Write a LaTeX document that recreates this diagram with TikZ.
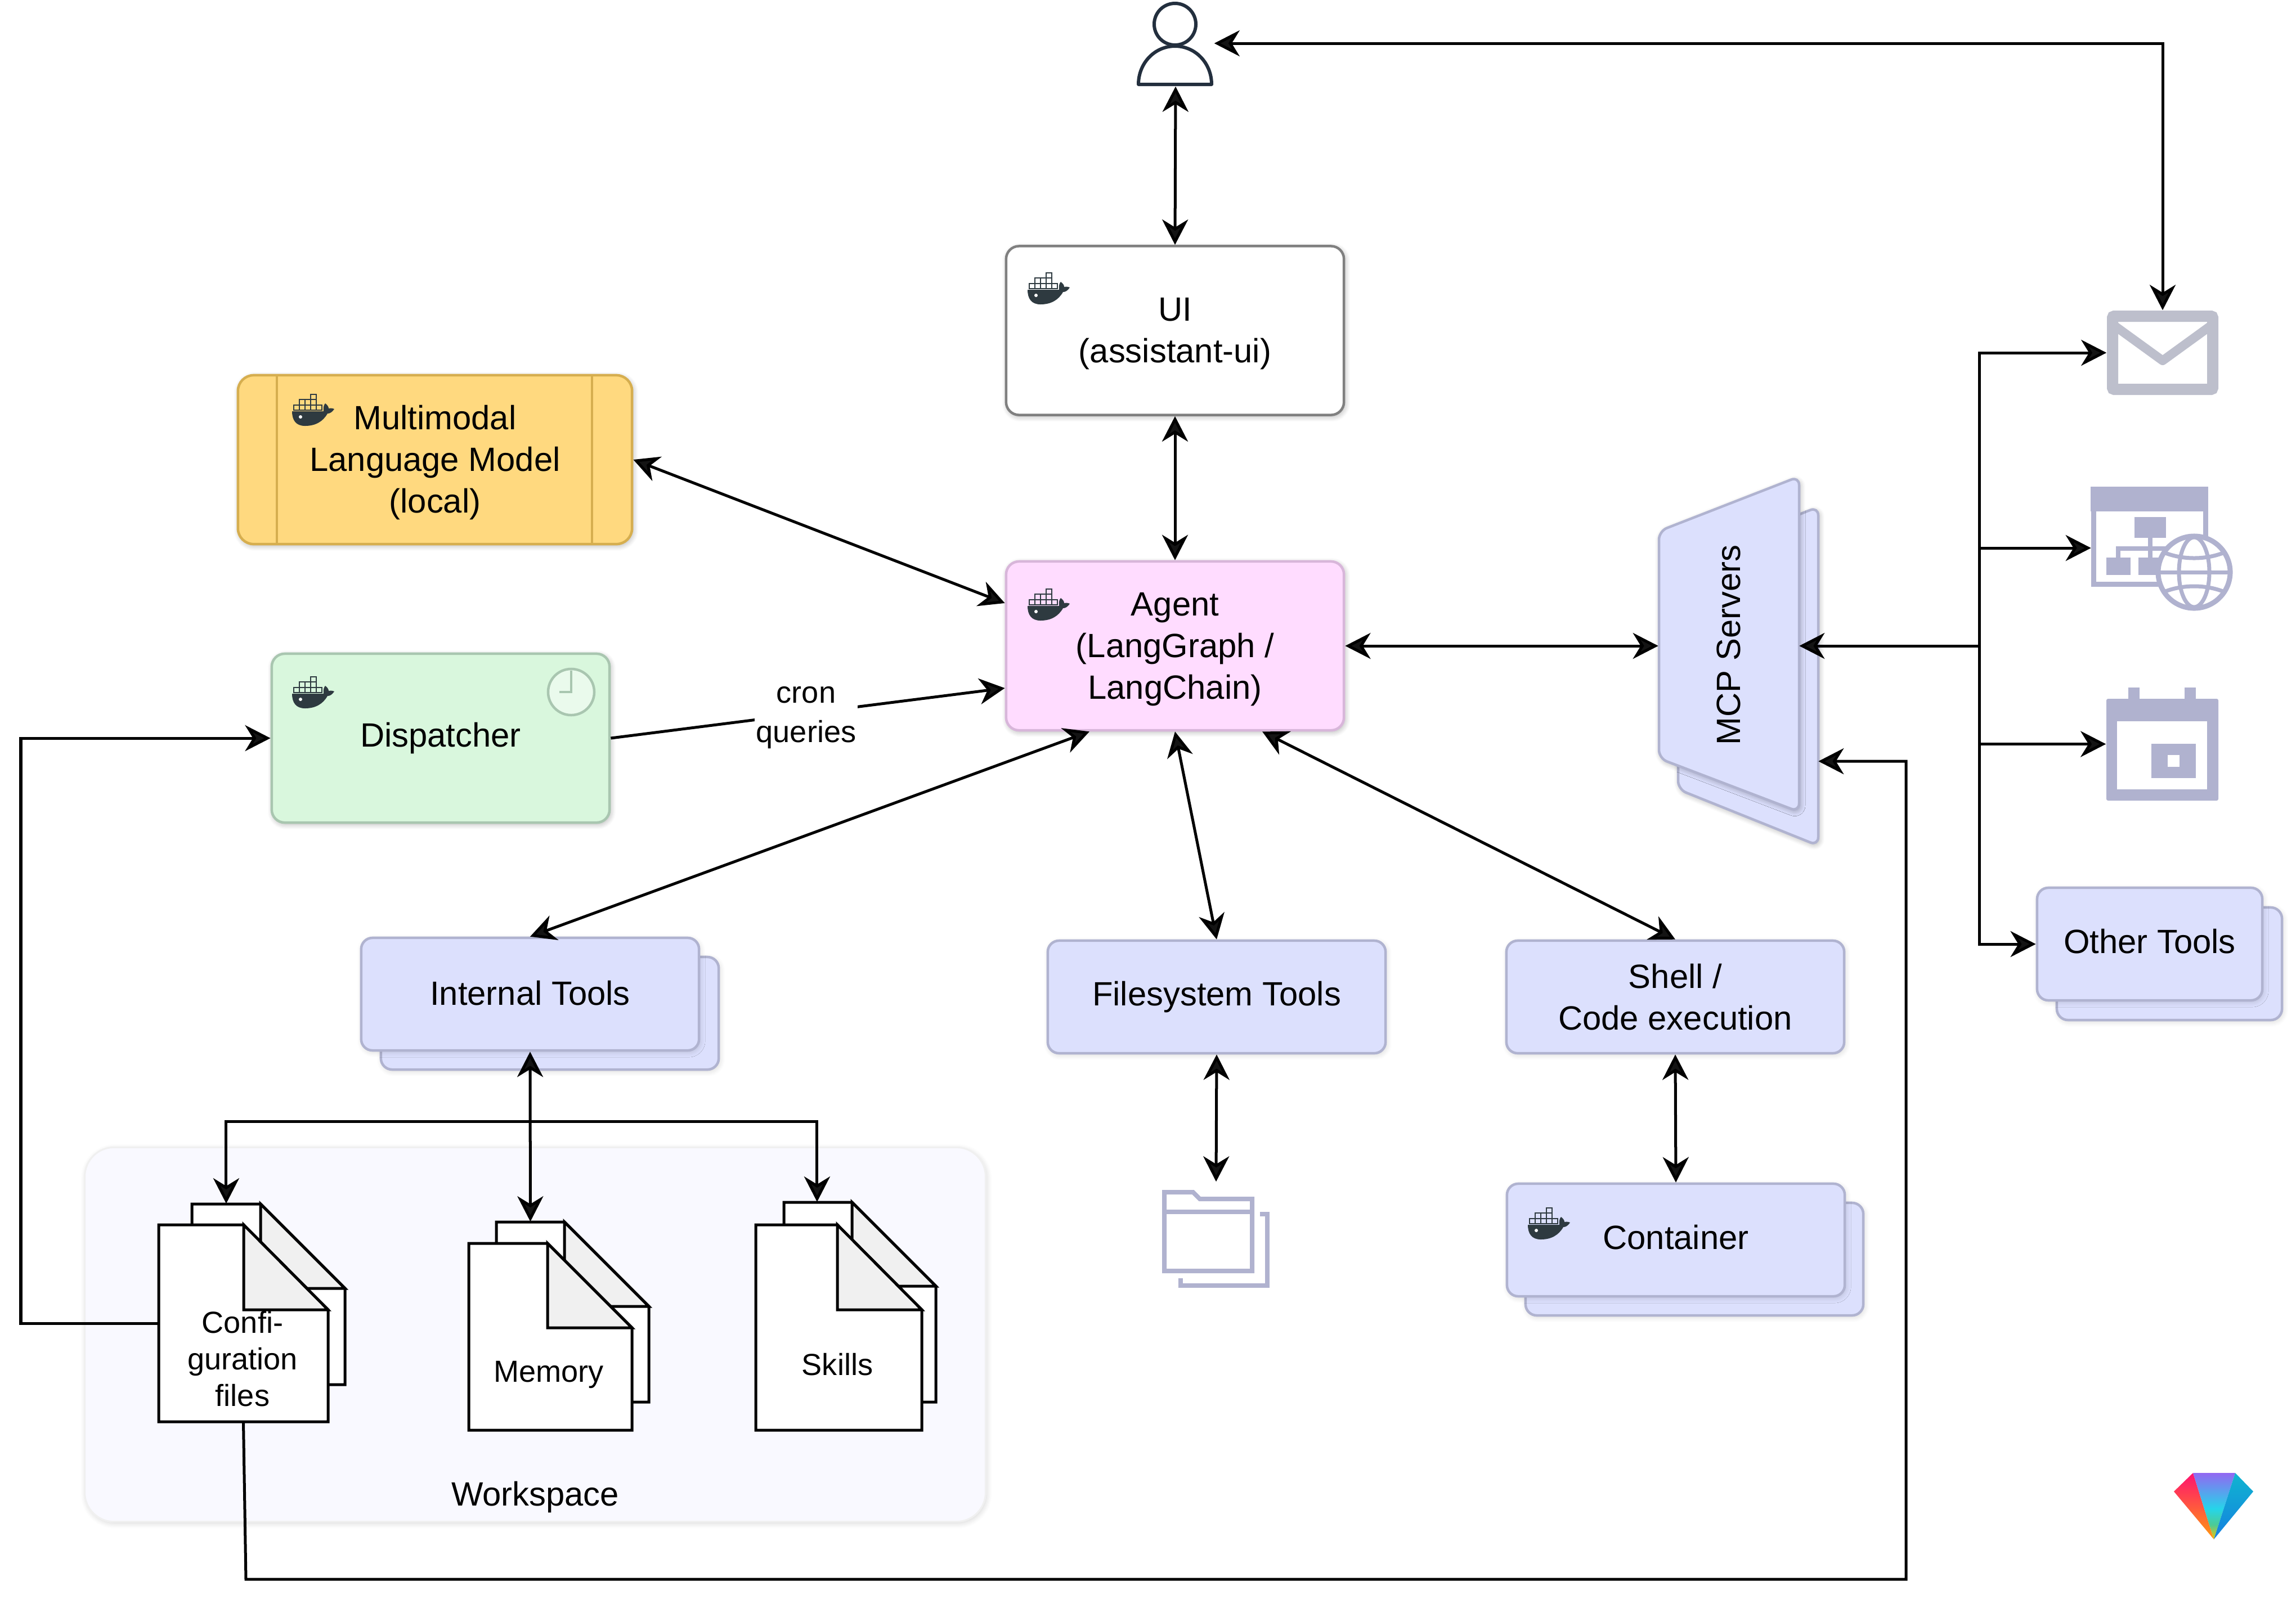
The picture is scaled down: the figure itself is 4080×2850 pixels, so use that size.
\documentclass[tikz,border=0pt]{standalone}
\usepackage{fontspec}
\setmainfont{Liberation Sans}
\usetikzlibrary{arrows.meta,shadows.blur}
\definecolor{toolfill}{HTML}{DCE0FD}
\definecolor{tooledge}{HTML}{B0B3D0}
\definecolor{modelfill}{HTML}{FFD97F}
\definecolor{modeledge}{HTML}{D6AE4F}
\definecolor{dispfill}{HTML}{D9F7DD}
\definecolor{dispedge}{HTML}{A9C6B0}
\definecolor{agentfill}{HTML}{FFDCFF}
\definecolor{agentedge}{HTML}{D8B6DA}
\definecolor{dockerink}{HTML}{2E3A40}
\definecolor{personink}{HTML}{232F3E}
\definecolor{mailink}{HTML}{BDBFCC}
\definecolor{iconink}{HTML}{B0B2CF}
\definecolor{workfill}{HTML}{F9F9FF}
\definecolor{gemyellow}{HTML}{F5C400}
\definecolor{gemgreen}{HTML}{4CCB96}
\definecolor{gemcyan}{HTML}{25D5EA}
\definecolor{gempurple}{HTML}{9268F2}
\definecolor{gempink}{HTML}{FF1270}
\definecolor{gemorange}{HTML}{FF9A10}
\definecolor{gemteal}{HTML}{10B5D0}
\definecolor{gemblue}{HTML}{1580E0}
\pgfdeclareverticalshading{gemcore}{100bp}{color(0bp)=(gemyellow); color(25bp)=(gemyellow); color(36bp)=(gemgreen); color(48bp)=(gemcyan); color(75bp)=(gempurple); color(100bp)=(gempurple)}
\newcommand{\topgap}{\rule{0pt}{.53cm}}
\newcommand{\docsheet}[6]{%
  \draw[docline,fill=white] (#1,#2) -- (#5,#2) -- (#3,#6) -- (#3,#4) -- (#1,#4) -- cycle;
  \draw[docline,fill=black!6] (#5,#2) -- (#5,#6) -- (#3,#6) -- cycle;
}
\begin{document}
\begin{tikzpicture}[x=.01cm, y=-.01cm, >={Stealth[length=.45cm,width=.46cm,inset=.14cm]},
    every text node part/.style={align=center}]
  \tikzset{
    softshadow/.style={blur shadow={shadow xshift=.02cm,shadow yshift=-.03cm,shadow blur radius=.09cm,shadow opacity=16,shadow blur steps=6}},
    box/.style={draw,line width=.045cm,rounded corners=.2cm,minimum width=6cm,minimum height=2cm,inner sep=0pt,softshadow,font=\mainsize,text=black},
    toolbox/.style={box,draw=tooledge,fill=toolfill},
    tallbox/.style={box,minimum height=3cm,rounded corners=.23cm},
    hightext/.style={text depth=.1cm},
    iconframe/.style={inner sep=0pt},
    docframe/.style={inner sep=0pt},
    doctext/.style={inner sep=0pt,font=\docsize},
    docline/.style={draw=black,line width=.05cm,line join=miter},
    iconline/.style={draw=iconink,line width=.08cm},
    link/.style={line width=.05cm},
    dockericon/.pic={
      \fill[dockerink] (-37,2) -- (19,2) .. controls (18,-6) and (20,-10) .. (22,-12)
        .. controls (26,-9) and (28,-6) .. (28,-3) .. controls (32,-4) and (36,-3) .. (38,-2)
        .. controls (34,4) and (30,6) .. (26,6) .. controls (18,20) and (5,28) .. (-14,28)
        .. controls (-30,28) and (-37,18) .. (-37,2) -- cycle;
      \fill[white] (-22,12) circle[radius=.03cm];
      \foreach \cx in {-34,-24,...,6} {\draw[dockerink,line width=.018cm] (\cx,-9) rectangle +(10,9);}
      \foreach \cx in {-24,-14,-4} {\draw[dockerink,line width=.018cm] (\cx,-19) rectangle +(10,10);}
      \draw[dockerink,line width=.018cm] (-4,-28) rectangle +(10,9);
    },
  }
  \def\mainsize{\fontsize{17}{21}\selectfont}
  \def\docsize{\fontsize{15.4}{18.4}\selectfont}
  \def\cronsize{\fontsize{15.4}{20}\selectfont}
  \useasboundingbox (0,0) rectangle (4080,2850);
  % workspace
  \node [draw=black!6,line width=.03cm,fill=workfill,rounded corners=.52cm,minimum width=16cm,minimum height=6.65cm,softshadow] (workspace) at (951,2372) {};
  \node [font=\mainsize] (workspacetext) at (951,2661) {Workspace};
  % top row
  \node [iconframe,minimum width=1.36cm,minimum height=1.52cm] (user) at (2089,77) {};
  \draw [personink,line width=.06cm] (2088,43) circle[radius=.37cm];
  \draw [personink,line width=.06cm,fill=white,line join=round] (2023,150) .. controls (2023,112) and (2052,82) .. (2088,82) .. controls (2124,82) and (2153,112) .. (2153,150) -- cycle;
  \node [box,tallbox,draw=black!50,fill=white] (ui) at (2088,587.5) {\topgap UI\\(assistant-ui)};
  \pic at (1863,513) {dockericon};
  % model and dispatcher
  \node [box,tallbox,draw=modeledge,fill=modelfill,minimum width=7cm,rounded corners=.28cm] (model) at (773,817) {\topgap Multimodal\\Language Model\\(local)};
  \draw [modeledge,line width=.045cm] (492,667) -- (492,967);
  \draw [modeledge,line width=.045cm] (1052,667) -- (1052,967);
  \pic at (556,729) {dockericon};
  \node [box,tallbox,draw=dispedge,fill=dispfill] (dispatcher) at (783,1312) {Dispatcher};
  \pic at (556,1231) {dockericon};
  \draw [dispedge,line width=.045cm,fill=white,fill opacity=.45] (1015,1230) circle[radius=.41cm];
  \draw [dispedge,line width=.045cm] (1015,1192) -- (1015,1230) -- (994,1230);
  \node [box,tallbox,draw=agentedge,fill=agentfill] (agent) at (2088,1148) {\topgap Agent\\(LangGraph /\\LangChain)};
  \pic at (1863,1075) {dockericon};
  % mcp servers
  \node [iconframe,minimum width=2.49cm,minimum height=5cm] (mcpback) at (3106,1203) {};
  \draw [toolbox,rounded corners=.15cm,softshadow] (2982,999) -- (3231,901) -- (3231,1503) -- (2982,1403) -- cycle;
  \draw [toolbox,rounded corners=.15cm,softshadow] (2948,944) -- (3197,847) -- (3197,1443) -- (2948,1348) -- cycle;
  \node [iconframe,font=\mainsize,minimum width=2.49cm,minimum height=5cm] (mcp) at (3072,1148) {\raisebox{.03cm}{\rotatebox{90}{MCP Servers}}};
  % tools
  \node [toolbox] (internalback) at (977,1801) {};
  \node [toolbox,text depth=.05cm] (internal) at (942,1767) {Internal Tools};
  \node [toolbox] (filesystem) at (2162,1772) {Filesystem Tools};
  \node [toolbox] (shell) at (2977,1772) {Shell /\\Code execution};
  \node [toolbox] (containerback) at (3011,2238) {};
  \node [toolbox,hightext] (container) at (2978,2204) {Container};
  \pic at (2752,2175) {dockericon};
  \node [toolbox,minimum width=4cm] (otherback) at (3855,1713) {};
  \node [toolbox,hightext,minimum width=4cm] (othertools) at (3820,1678) {Other Tools};
  % folder
  \node [iconframe,minimum width=1.91cm,minimum height=1.88cm] (folder) at (2161,2195) {};
  \draw [iconline] (2098,2272) -- (2098,2285) -- (2252,2285) -- (2252,2158) -- (2239,2158);
  \draw [iconline,fill=white] (2069,2259) -- (2069,2119) -- (2120,2119) -- (2132,2131) -- (2225,2131) -- (2225,2259) -- cycle;
  \draw [iconline] (2069,2154) -- (2225,2154);
  % icons on the right
  \node [iconframe,minimum width=1.98cm,minimum height=1.5cm] (mail) at (3843,627) {};
  \draw [mailink,line width=.16cm,line join=round] (3752,575) -- (3843,641) -- (3934,575);
  \draw [mailink,line width=.2cm,rounded corners=.03cm] (3754,562) rectangle (3932,692);
  \node [iconframe,minimum width=2.49cm,minimum height=2.19cm] (network) at (3841,974) {};
  \draw [iconink,line width=.09cm] (3720,870) rectangle (3919,1038);
  \fill [iconink] (3715,865) rectangle (3924,909);
  \fill [iconink] (3793,919) rectangle (3849,956);
  \fill [iconink] (3743,991) rectangle (3786,1022);
  \fill [iconink] (3800,991) rectangle (3850,1022);
  \draw [iconink,line width=.08cm] (3821,956) -- (3821,991);
  \draw [iconink,line width=.08cm] (3764,991) -- (3764,975) -- (3880,975);
  \draw [iconink,line width=.09cm,fill=white] (3899,1017) circle[radius=.64cm];
  \draw [iconink,line width=.07cm] (3899,1017) ellipse[x radius=.27cm,y radius=.62cm];
  \draw [iconink,line width=.07cm] (3837,1017) -- (3961,1017);
  \draw [iconink,line width=.07cm] (3848,983) .. controls (3880,995) and (3918,995) .. (3950,983);
  \draw [iconink,line width=.07cm] (3848,1051) .. controls (3880,1039) and (3918,1039) .. (3950,1051);
  \node [iconframe,minimum width=1.99cm,minimum height=2.01cm] (calendar) at (3842.5,1322.5) {};
  \fill [iconink] (3782,1222) rectangle (3802,1250);
  \fill [iconink] (3882,1222) rectangle (3902,1250);
  \fill [iconink,rounded corners=.03cm] (3743,1242) rectangle (3942,1423);
  \fill [white] (3762,1282) rectangle (3922,1403);
  \fill [iconink] (3823,1322) rectangle (3902,1383);
  \fill [white] (3852,1342) rectangle (3873,1363);
  % documents
  \docsheet{341}{2140}{613}{2461}{463}{2290}
  \docsheet{282}{2177}{583}{2527}{433}{2328}
  \docsheet{882}{2172}{1153}{2492}{1003}{2322}
  \docsheet{833}{2210}{1123}{2542}{973}{2360}
  \docsheet{1393}{2137}{1663}{2492}{1514}{2286}
  \docsheet{1343}{2177}{1638}{2542}{1488}{2328}
  \node [docframe,minimum width=2.72cm,minimum height=3.21cm] (configback) at (477,2300.5) {};
  \node [docframe,minimum width=3.01cm,minimum height=3.5cm] (config) at (432.5,2352) {};
  \node [docframe,minimum width=2.71cm,minimum height=3.2cm] (memoryback) at (1017.5,2332) {};
  \node [docframe,minimum width=2.7cm,minimum height=3.55cm] (skillsback) at (1528,2314.5) {};
  \node [doctext] (configtext) at (431,2415) {Confi-\\guration\\files};
  \node [doctext] (memorytext) at (975,2443) {Memory};
  \node [doctext] (skillstext) at (1488,2425) {Skills};
  % gem in the corner
  \shade [top color=gempink,bottom color=gemorange] (3897,2618) -- (3863,2651) -- (3934,2736) -- cycle;
  \shade [shading=gemcore] (3897,2618) -- (3972,2618) -- (3934,2736) -- cycle;
  \shade [top color=gemteal,bottom color=gemblue] (3972,2618) -- (4004,2651) -- (3934,2736) -- cycle;
  % connectors
  \draw [link,<->] (user.south) -- (ui.north);
  \draw [link,<->] (ui.south) -- (agent.north);
  \draw [link,<->] (model.east) -- ([yshift=.76cm]agent.west);
  \draw [link,->] (dispatcher.east) -- node [fill=white,inner sep=.03cm,font=\cronsize,xshift=-.03cm,yshift=-.08cm] (cronlabel) {cron\\queries} ([yshift=-.75cm]agent.west);
  \draw [link,<->] (agent.east) -- (mcp.west);
  \draw [link,<->] ([xshift=-1.52cm]agent.south) -- (internal.north);
  \draw [link,<->] (agent.south) -- (filesystem.north);
  \draw [link,<->] ([xshift=1.55cm]agent.south) -- (shell.north);
  \draw [link,<->] (filesystem.south) -- (folder.north);
  \draw [link,<->] (shell.south) -- (container.north);
  \coordinate (docfork) at (942,1993);
  \draw [link,<->] (internal.south) -- ([xshift=-.75cm]memoryback.north);
  \draw [link,->] (docfork) -| ([xshift=-.75cm]configback.north);
  \draw [link,->] (docfork) -| ([xshift=-.76cm]skillsback.north);
  \draw [link,->] (config.west) -- (37,2352) |- (dispatcher.west);
  \draw [link,->] (config.south) -- (437,2807) -| (3387,1353) -- ([yshift=-1.5cm]mcpback.east);
  \draw [link,<->] (user.east) -- (3843,77) -- (mail.north);
  \coordinate (mcpfork) at (3517,1148);
  \draw [link,->] (mcpfork) -- (mcp.east);
  \draw [link,->] (mcpfork) |- (mail.west);
  \draw [link,->] (mcpfork) |- (network.west);
  \draw [link,->] (mcpfork) |- (calendar.west);
  \draw [link,->] (mcpfork) |- (othertools.west);
\end{tikzpicture}
\end{document}
